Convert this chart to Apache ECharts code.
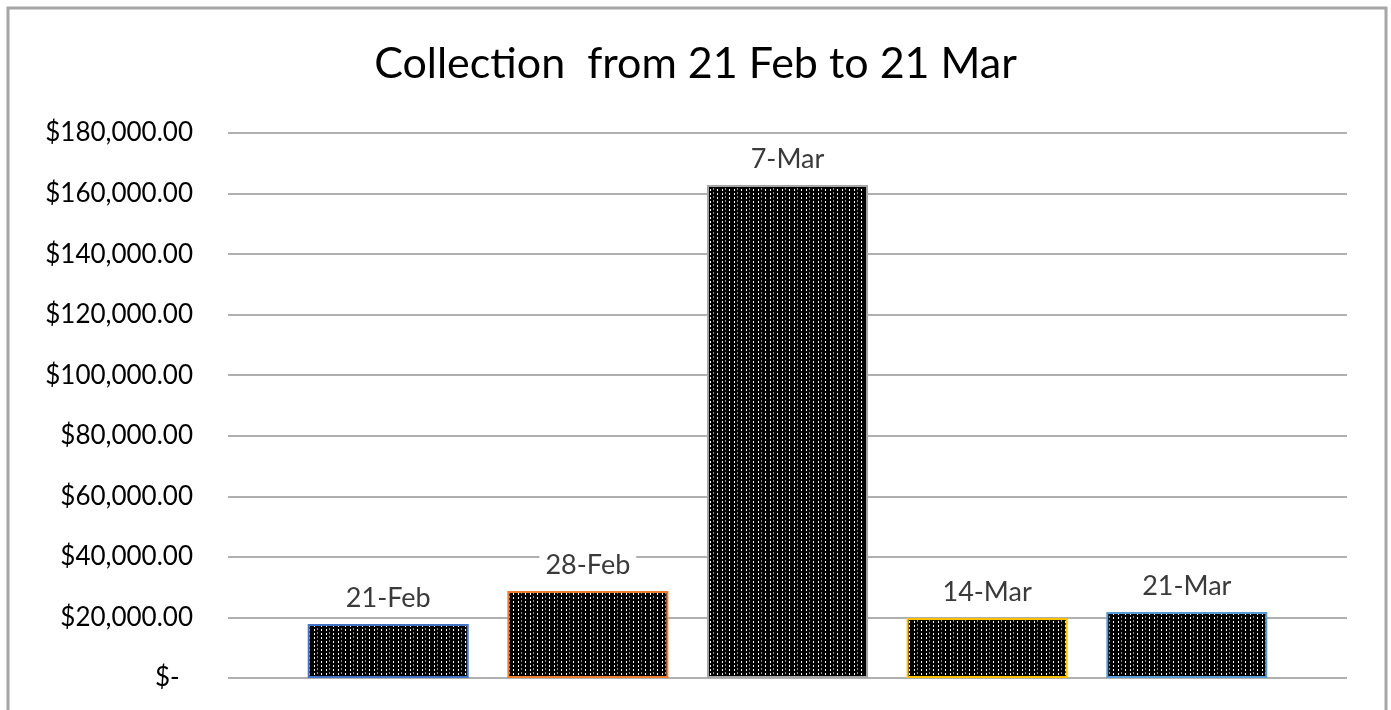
<!DOCTYPE html>
<html>
<head>
<meta charset="utf-8">
<script src="https://cdn.jsdelivr.net/npm/echarts@6/dist/echarts.min.js"></script>
<style>
    html, body { margin: 0; padding: 0; background: #fff; }
    #chart { width: 1391px; height: 710px; }
</style>
</head>
<body>
<div id="chart"></div>
<script>
    // data
    var dates = ['21-Feb', '28-Feb', '7-Mar', '14-Mar', '21-Mar'];
    var amounts = [17800, 28700, 162800, 19800, 21800];
    var borderColors = ['#4472C4', '#ED7D31', '#A5A5A5', '#FFC000', '#5B9BD5'];
    var yTicks = { min: 0, max: 180000, step: 20000 };

    // black bar fill with white dotted columns
    function makePattern() {
        var c = document.createElement('canvas');
        c.width = 12;
        c.height = 4;
        var ctx = c.getContext('2d');
        ctx.fillStyle = '#000';
        ctx.fillRect(0, 0, 12, 4);
        ctx.fillStyle = '#fff';
        ctx.fillRect(2, 1, 1, 2);
        ctx.fillRect(9, 1, 1, 2);
        ctx.fillStyle = '#8a8a8a';
        ctx.fillRect(5, 0, 1, 2);
        return c;
    }
    var pattern = makePattern();

    function money(v) {
        if (v === 0) return '$-  ';
        return '$' + v.toFixed(2).replace(/\B(?=(\d{3})+(?!\d))/g, ',');
    }

    var series = dates.map(function (d, i) {
        return {
            name: d,
            type: 'bar',
            data: [amounts[i]],
            barWidth: 161,
            barGap: '24%',
            itemStyle: {
                color: { image: pattern, repeat: 'repeat' },
                borderColor: borderColors[i],
                borderWidth: 2
            },
            label: {
                show: true,
                position: 'top',
                distance: 12,
                formatter: '{a}',
                color: '#3a3a3a',
                fontFamily: 'Lato',
                fontSize: 27,
                backgroundColor: '#fff',
                padding: [0, 6]
            },
            emphasis: { disabled: true }
        };
    });

    var chart = echarts.init(document.getElementById('chart'));
    chart.setOption({
        animation: false,
        backgroundColor: '#fff',
        title: {
            text: 'Collection  from 21 Feb to 21 Mar',
            left: 'center',
            top: 38,
            textStyle: {
                fontFamily: 'Lato',
                fontWeight: 'normal',
                fontSize: 43,
                color: '#000'
            }
        },
        graphic: [{
            type: 'rect',
            shape: { x: 8, y: 8, width: 1378, height: 720 },
            style: { fill: null, stroke: '#a6a6a6', lineWidth: 3 },
            silent: true
        }],
        grid: { left: 228, right: 44, top: 133, bottom: 32 },
        xAxis: {
            type: 'category',
            data: ['Collection'],
            axisLine: { show: false },
            axisTick: { show: false },
            axisLabel: { show: false }
        },
        yAxis: {
            type: 'value',
            min: yTicks.min,
            max: yTicks.max,
            interval: yTicks.step,
            axisLine: { show: false },
            axisTick: { show: false },
            splitLine: { lineStyle: { color: '#b0b0b0', width: 2 } },
            axisLabel: {
                formatter: money,
                margin: 35,
                color: '#000',
                fontFamily: 'Lato',
                fontSize: 26
            }
        },
        series: series
    });
</script>
</body>
</html>
